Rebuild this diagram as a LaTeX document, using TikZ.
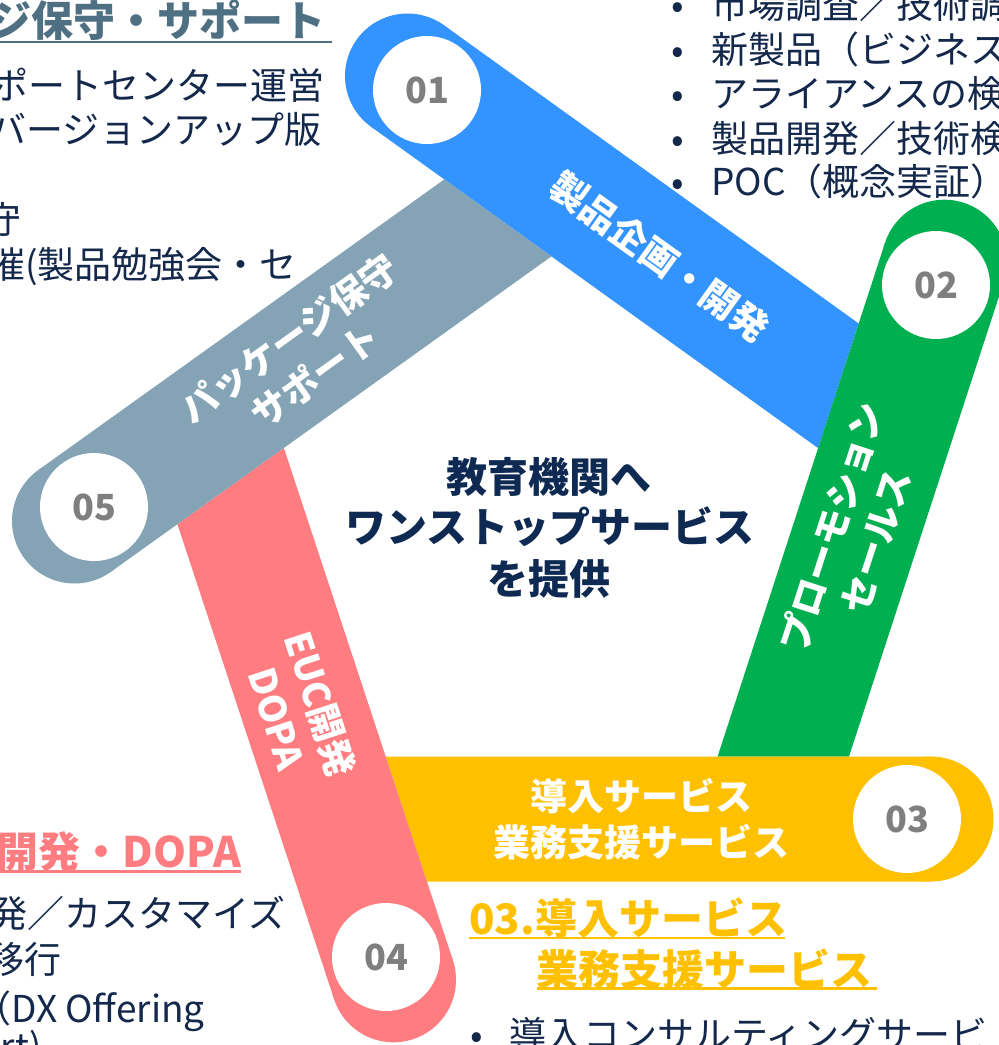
\documentclass[tikz,border=0pt]{standalone}
\usepackage{fontspec}
\setmainfont{Noto Sans CJK JP}
\definecolor{cblue}{HTML}{3494FF}
\definecolor{cgreen}{HTML}{00B050}
\definecolor{cyellow}{HTML}{FFC000}
\definecolor{cpink}{HTML}{FF7C80}
\definecolor{cgrey}{HTML}{84A4B6}
\definecolor{numgrey}{HTML}{7F7F7F}
\definecolor{navy}{HTML}{14284B}
\definecolor{slate}{HTML}{4F6F82}
\definecolor{hubnavy}{HTML}{0F2A52}
\tikzset{
  numcirc/.style={circle, fill=white, minimum size=108pt, inner sep=0pt, text=numgrey, font=\fontsize{36}{36}\selectfont\bfseries},
  bandlbl/.style={text=white, font=\fontsize{37}{46}\selectfont\bfseries, align=center, inner sep=0pt},
  body/.style={text=navy, font=\fontsize{37}{45}\selectfont, inner sep=0pt},
  heading/.style={font=\fontsize{42}{50}\selectfont\bfseries, inner sep=0pt},
  hubtext/.style={text=hubnavy, font=\fontsize{41}{50}\selectfont\bfseries, inner sep=0pt, anchor=base},
  uline/.style={line width=2.5pt}
}
\begin{document}
\begin{tikzpicture}[x=1pt,y=-1pt]
\useasboundingbox (0,0) rectangle (999,1045);
\clip (0,0) rectangle (999,1045);

% 01 blue band
\fill[cblue] (444.0,25.3) -- (858.7,323.5) -- (818.1,448.1) -- (371.0,126.7) -- cycle;
\fill[cblue] (407.5,76.0) circle[radius=62.5];
% 02 green band
\fill[cgreen] (885.0,242.8) -- (717.6,756.5) -- (849.0,756.5) -- (1003.8,281.6) -- cycle;
\fill[cgreen] (944.4,262.2) circle[radius=62.5];
% 03 yellow band
\fill[cyellow] (931,756.5) -- (385.7,756.5) -- (426.9,881.5) -- (931,881.5) -- cycle;
\fill[cyellow] (931,819) circle[radius=62.5];
% 04 pink band
\fill[cpink] (452.9,960.2) -- (283.9,448.0) -- (177.4,524.2) -- (334.2,999.4) -- cycle;
\fill[cpink] (393.5,979.8) circle[radius=62.5];
% 05 grey band
\fill[cgrey] (38.1,470.2) -- (444.3,179.4) -- (551.4,256.4) -- (110.9,571.8) -- cycle;
\fill[cgrey] (74.5,521.0) circle[radius=62.5];

% number circles
\node[numcirc] (n1) at (427,90) {01};
\node[numcirc] (n2) at (936,285) {02};
\node[numcirc] (n3) at (907,819) {03};
\node[numcirc] (n4) at (386,957) {04};
\node[numcirc] (n5) at (94,507) {05};

% band labels
\node[bandlbl, rotate=-35.7] (l1) at (660,257) {製品企画・開発};
\node[bandlbl, rotate=72] (l2) at (853,534) {プローモション\\セールス};
\node[bandlbl] (l3) at (641,819.5) {導入サービス\\業務支援サービス};
\node[bandlbl, rotate=-72] (l4) at (300,711) {EUC開発\\DOPA};
\node[bandlbl, rotate=35.7] (l5) at (302,357) {パッケージ保守\\サポート};

% hub text
\node[hubtext] (c1) at (549,492) {教育機関へ};
\node[hubtext] (c2) at (550,542) {ワンストップサービス};
\node[hubtext] (c3) at (549,594) {を提供};

% top-left block (05)
\node[heading, text=slate, anchor=base east] (h5) at (326,36) {ジ保守・サポート};
\draw[slate, uline] (0,42) -- (332,42);
\node[body, anchor=base east] (t5a) at (325,99) {ポートセンター運営};
\node[body, anchor=base east] (t5b) at (322,143) {バージョンアップ版};
\node[body, anchor=base east] (t5c) at (22,233) {守};
\node[body, anchor=base east] (t5d) at (297,278) {催(製品勉強会・セ};

% top-right block (01)
\node[body, anchor=base] (d1a) at (678,18) {•};
\node[body, anchor=base west] (t1a) at (711,18) {市場調査／技術調};
\node[body, anchor=base] (d1b) at (678,63) {•};
\node[body, anchor=base west] (t1b) at (711,63) {新製品（ビジネス};
\node[body, anchor=base] (d1c) at (678,107) {•};
\node[body, anchor=base west] (t1c) at (711,107) {アライアンスの検};
\node[body, anchor=base] (d1d) at (678,152) {•};
\node[body, anchor=base west] (t1d) at (711,152) {製品開発／技術検};
\node[body, anchor=base] (d1e) at (678,195) {•};
\node[body, anchor=base west] (t1e) at (711,195) {POC（概念実証）};

% bottom-left block (04)
\node[heading, text=cpink, anchor=base east] (h4) at (241,867) {開発・DOPA};
\draw[cpink, uline] (0,871.5) -- (241,871.5);
\node[body, anchor=base east] (t4a) at (286,927) {発／カスタマイズ};
\node[body, anchor=base east] (t4b) at (62,973) {移行};
\node[body, anchor=base east] (t4c) at (205,1022) {（DX Offering};
\node[body, anchor=base east] (t4d) at (42,1060) {rt)};

% bottom-right block (03)
\node[heading, text=cyellow, anchor=base west] (h3a) at (469,934) {03.導入サービス};
\draw[cyellow, uline] (469,938) -- (785,938);
\node[heading, text=cyellow, anchor=base west] (h3b) at (536,985) {業務支援サービス};
\draw[cyellow, uline] (537,988.5) -- (877,988.5);
\node[body, anchor=base] (d3a) at (477,1048) {•};
\node[body, anchor=base west] (t3a) at (509,1048) {導入コンサルティングサービ};
\end{tikzpicture}
\end{document}
